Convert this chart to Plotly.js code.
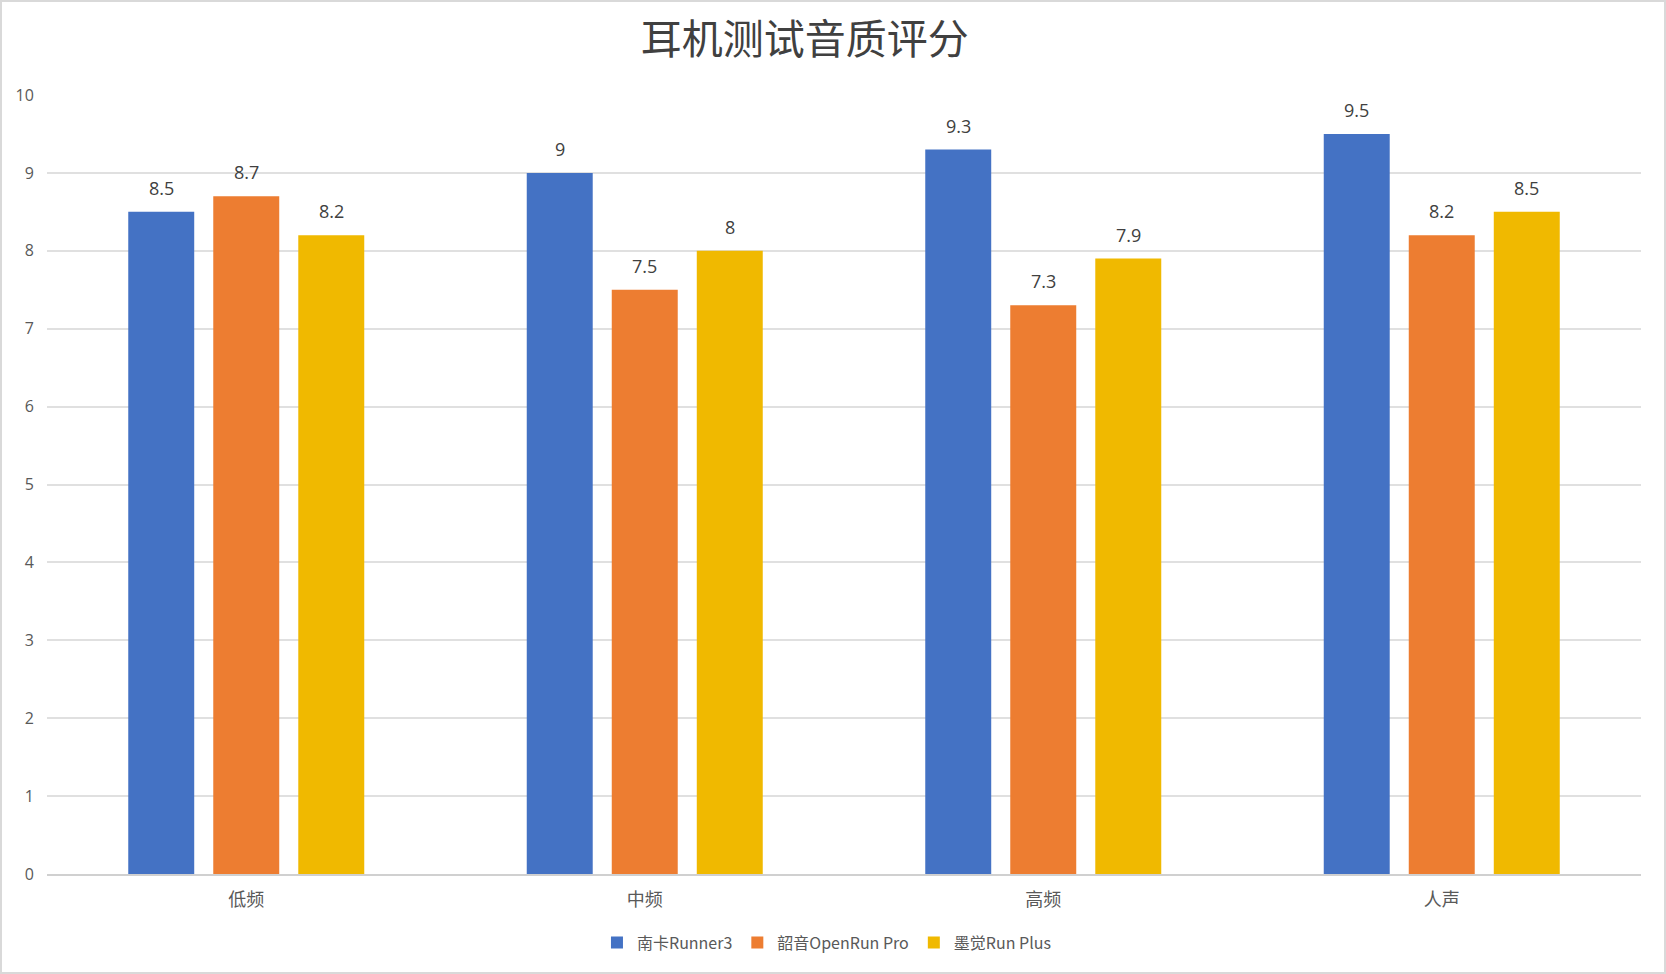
<!DOCTYPE html>
<html>
<head>
<meta charset="utf-8">
<script src="https://cdn.plot.ly/plotly-3.0.1.min.js"></script>
<style>
html,body{margin:0;padding:0;background:#fff;}
#wrap{position:relative;width:1666px;height:974px;}
#chart{width:1666px;height:974px;}
#frame{position:absolute;left:0;top:0;width:1662px;height:970px;border:2px solid #d9d9d9;pointer-events:none;}
</style>
</head>
<body>
<div id="wrap"><div id="chart"></div><div id="frame"></div></div>
<script>
const categories = ['低频', '中频', '高频', '人声'];
const seriesNames = ['南卡Runner3', '韶音OpenRun Pro', '墨觉Run Plus'];
const nankaValues = [8.5, 9, 9.3, 9.5];
const shokzValues = [8.7, 7.5, 7.3, 8.2];
const mojueValues = [8.2, 8, 7.9, 8.5];
const yTickValues = [0, 1, 2, 3, 4, 5, 6, 7, 8, 9, 10];
const colors = ['#4472C4', '#ED7D31', '#F0B900'];

const allValues = [nankaValues, shokzValues, mojueValues];
const cjk = '"Noto Sans CJK SC", "Open Sans", sans-serif';
const barGap = 0.36;
const barGroupGap = 0.224;

const traces = allValues.map((vals, i) => ({
  type: 'bar',
  name: seriesNames[i],
  x: categories,
  y: vals,
  marker: {color: colors[i]},
  hoverinfo: 'x+y+name'
}));

// value labels placed above each bar (same slot layout as the grouped bars)
const slot = (1 - barGap) / allValues.length;
const annotations = [];
allValues.forEach((vals, i) => {
  vals.forEach((v, j) => {
    annotations.push({
      xref: 'x', yref: 'y',
      x: j + (i - (allValues.length - 1) / 2) * slot,
      y: v,
      text: String(v),
      showarrow: false,
      xanchor: 'center', yanchor: 'middle',
      yshift: 24,
      font: {family: '"Open Sans", sans-serif', size: 18, color: '#404040'}
    });
  });
});

const layout = {
  width: 1666,
  height: 974,
  paper_bgcolor: '#ffffff',
  plot_bgcolor: '#ffffff',
  margin: {l: 47, r: 25, t: 95, b: 100},
  title: {
    text: '耳机测试音质评分',
    font: {family: cjk, size: 41, color: '#404040'},
    x: 0.483, xanchor: 'center',
    y: 0.959, yanchor: 'middle'
  },
  barmode: 'group',
  bargap: barGap,
  bargroupgap: barGroupGap,
  showlegend: true,
  legend: {
    orientation: 'h',
    x: 0.489, xanchor: 'center',
    y: -0.088, yanchor: 'middle',
    font: {family: cjk, size: 16, color: '#595959'},
    itemwidth: 30,
    traceorder: 'normal'
  },
  annotations: annotations,
  xaxis: {
    type: 'category',
    tickfont: {family: cjk, size: 18, color: '#595959'},
    showline: true,
    linecolor: '#d0d0d0',
    linewidth: 2,
    ticks: '',
    ticklabelstandoff: 8,
    showgrid: false,
    zeroline: false
  },
  yaxis: {
    range: [0, 10],
    tickvals: yTickValues,
    tickfont: {family: '"Open Sans", sans-serif', size: 16, color: '#595959'},
    showgrid: true,
    gridcolor: '#e0e0e0',
    gridwidth: 2,
    zeroline: false,
    showline: false,
    ticks: 'outside',
    tickcolor: 'rgba(0,0,0,0)',
    ticklen: 9
  }
};

Plotly.newPlot('chart', traces, layout, {displayModeBar: false, staticPlot: true});
</script>
</body>
</html>
